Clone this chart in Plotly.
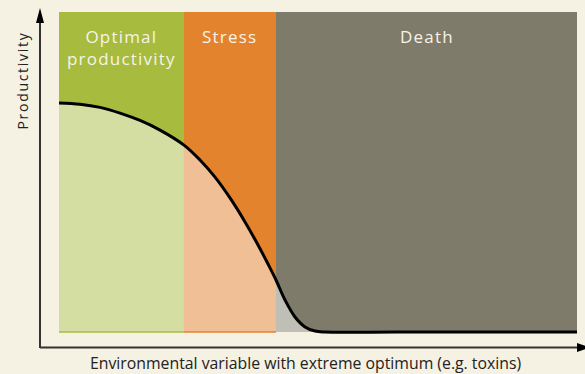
import plotly.graph_objects as go

# Zones along the environmental gradient (x in 0-100 units)
zone_names = [["Optimal", "productivity"], ["Stress"], ["Death"]]
zone_edges = [0.0, 24.13, 41.89, 100.0]
zone_dark = ["#a7bb3e", "#e3832d", "#7e7b6a"]
zone_light = ["#d4dda2", "#f0bf95", "#bfbfb5"]

# Productivity response curve (y in 0-100 units)
curve_x = [0.0, 4.05, 7.92, 11.78, 15.64, 19.5, 24.13, 27.22, 30.12, 33.01,
           35.91, 38.42, 40.35, 41.89, 43.63, 45.56, 47.49, 49.42, 51.35,
           65.0, 80.0, 100.0]
curve_y = [71.6, 71.2, 70.2, 68.4, 66.1, 63.1, 58.4, 53.75, 48.4, 41.9,
           34.4, 27.2, 21.25, 16.25, 10.0, 4.7, 1.6, 0.3, 0.0,
           0.0, 0.0, 0.0]

x_title = "Environmental variable with extreme optimum (e.g. toxins)"
y_title = "Productivity"

BG = "#f5f1e3"
AXIS = "#333333"
FONT = "Open Sans"
W, H = 585, 374
L, R, T, B = 59, 8, 12, 38
Y_MIN = -1.25
SPLINE = dict(shape="spline", smoothing=1.0)


def spaced(text, px_gap):
    return f'<span style="letter-spacing:{px_gap}px">{text}</span>'


fig = go.Figure()

# Saturated zone backgrounds
for i in range(3):
    fig.add_shape(type="rect", xref="x", yref="y",
                  x0=zone_edges[i], x1=zone_edges[i + 1], y0=0, y1=100,
                  fillcolor=zone_dark[i], line_width=0, layer="below")

# Light tint under the curve in each zone
for i in range(3):
    lo, hi = zone_edges[i], zone_edges[i + 1]
    xs = [x for x in curve_x if lo <= x <= hi]
    ys = [y for x, y in zip(curve_x, curve_y) if lo <= x <= hi]
    fig.add_trace(go.Scatter(x=xs, y=ys, mode="lines", fill="tozeroy",
                             fillcolor=zone_light[i],
                             line=dict(width=0, **SPLINE),
                             hoverinfo="skip", showlegend=False))

# Thin coloured baseline under the first two zones
for i in range(2):
    fig.add_trace(go.Scatter(x=[zone_edges[i], zone_edges[i + 1]], y=[0, 0],
                             mode="lines", line=dict(color=zone_dark[i], width=1.5),
                             hoverinfo="skip", showlegend=False))

# Response curve
fig.add_trace(go.Scatter(x=curve_x, y=curve_y, mode="lines",
                         line=dict(color="black", width=3, **SPLINE),
                         hoverinfo="skip", showlegend=False))

# Zone labels
for i, lines in enumerate(zone_names):
    fig.add_annotation(x=(zone_edges[i] + zone_edges[i + 1]) / 2, y=1.0,
                       xref="x", yref="paper", xanchor="center", yanchor="top",
                       yshift=-11,
                       text="<br>".join(spaced(s, 1.2) for s in lines),
                       showarrow=False,
                       font=dict(family=FONT, size=17, color="#f7f3e8"))

pw, ph = W - L - R, H - T - B


def px(xp):
    return (xp - L) / pw


def py(yp):
    return (H - B - yp) / ph


# Axis lines with arrowheads (drawn in paper space)
fig.add_shape(type="line", xref="paper", yref="paper",
              x0=px(40), x1=px(40), y0=py(348), y1=py(20),
              line=dict(color=AXIS, width=2))
fig.add_shape(type="line", xref="paper", yref="paper",
              x0=px(40), x1=px(578), y0=py(347.5), y1=py(347.5),
              line=dict(color=AXIS, width=2))
fig.add_shape(type="path", xref="paper", yref="paper",
              path=f"M {px(36)} {py(23)} L {px(44)} {py(23)} L {px(40)} {py(8)} Z",
              fillcolor="black", line_width=0)
fig.add_shape(type="path", xref="paper", yref="paper",
              path=f"M {px(577)} {py(343)} L {px(577)} {py(352)} L {px(590)} {py(347.5)} Z",
              fillcolor="black", line_width=0)

# Axis titles
fig.add_annotation(x=px(22), y=py(80.5), xref="paper", yref="paper",
                   xanchor="center", yanchor="middle",
                   text=spaced(y_title, 1.7), textangle=-90, showarrow=False,
                   font=dict(family=FONT, size=14, color="#222222"))
fig.add_annotation(x=px(305), y=py(362.5), xref="paper", yref="paper",
                   xanchor="center", yanchor="middle",
                   text=x_title, showarrow=False,
                   font=dict(family=FONT, size=15.8, color="#222222"))

fig.update_xaxes(range=[0, 100], visible=False, fixedrange=True)
fig.update_yaxes(range=[Y_MIN, 100], visible=False, fixedrange=True)
fig.update_layout(width=W, height=H, margin=dict(l=L, r=R, t=T, b=B),
                  paper_bgcolor=BG, plot_bgcolor=BG, showlegend=False)

fig.write_html("out.html", config={"displayModeBar": False})
